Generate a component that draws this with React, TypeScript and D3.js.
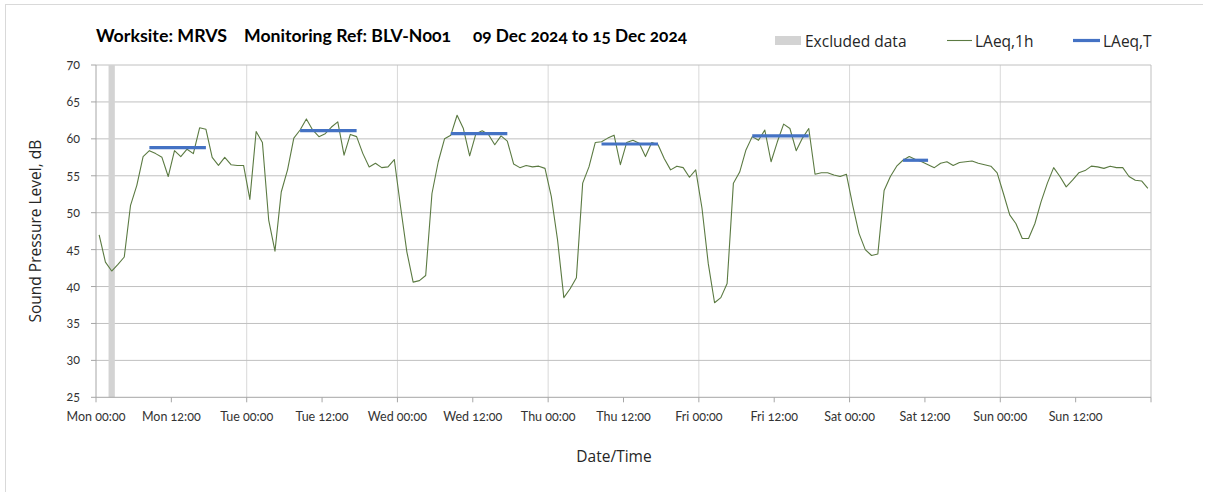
import React from 'react';
import * as d3 from 'd3';

// Hourly LAeq,1h values (168 hours, Mon 00:00 .. Sun 23:00)
const laeq1h: number[] = [
  // Mon
  47.0, 43.3, 42.1, 43.0, 44.0, 51.0, 53.7, 57.6, 58.4, 58.0, 57.5, 54.9,
  58.4, 57.6, 58.6, 58.0, 61.5, 61.3, 57.5, 56.4, 57.5, 56.5, 56.4, 56.4,
  // Tue
  51.8, 61.0, 59.5, 49.0, 44.8, 52.8, 55.8, 60.1, 61.2, 62.7, 61.2, 60.3,
  60.7, 61.6, 62.3, 57.8, 60.6, 60.3, 58.0, 56.2, 56.7, 56.1, 56.2, 57.2,
  // Wed
  50.8, 44.7, 40.6, 40.8, 41.5, 52.6, 56.9, 60.0, 60.5, 63.2, 61.4, 57.7,
  60.7, 61.1, 60.6, 59.2, 60.4, 59.7, 56.6, 56.1, 56.4, 56.2, 56.3, 56.0,
  // Thu
  52.2, 46.3, 38.5, 39.7, 41.2, 54.0, 56.2, 59.5, 59.6, 60.1, 60.5, 56.5,
  59.5, 59.8, 59.4, 57.6, 59.5, 59.2, 57.3, 55.8, 56.3, 56.1, 54.8, 55.8,
  // Fri
  50.6, 43.1, 37.8, 38.5, 40.4, 54.0, 55.5, 58.5, 60.3, 59.8, 61.2, 56.9,
  59.6, 62.0, 61.4, 58.4, 60.1, 61.4, 55.2, 55.4, 55.4, 55.1, 54.9, 55.2,
  // Sat
  51.0, 47.2, 45.0, 44.2, 44.4, 53.0, 54.9, 56.3, 57.1, 57.6, 57.2, 56.9,
  56.5, 56.1, 56.7, 56.9, 56.4, 56.8, 56.9, 57.0, 56.7, 56.5, 56.3, 55.4,
  // Sun
  52.6, 49.7, 48.5, 46.5, 46.5, 48.5, 51.5, 54.0, 56.1, 54.9, 53.5, 54.4,
  55.4, 55.7, 56.3, 56.2, 56.0, 56.3, 56.1, 56.1, 54.9, 54.4, 54.3, 53.3,
];

// LAeq,T periods (hour offsets from Mon 00:00, end exclusive)
const laeqTStart = [8, 32, 56, 80, 104, 128];
const laeqTEnd = [18, 42, 66, 90, 114, 133];
const laeqTValues = [58.8, 61.1, 60.7, 59.3, 60.4, 57.1];

// Excluded data periods
const excludedStart = [2];
const excludedEnd = [3];

const xTickLabels = [
  'Mon 00:00', 'Mon 12:00', 'Tue 00:00', 'Tue 12:00', 'Wed 00:00', 'Wed 12:00',
  'Thu 00:00', 'Thu 12:00', 'Fri 00:00', 'Fri 12:00', 'Sat 00:00', 'Sat 12:00',
  'Sun 00:00', 'Sun 12:00',
];
const yTicks = [25, 30, 35, 40, 45, 50, 55, 60, 65, 70];

const W = 1208;
const H = 492;
const L = 96, R = 1151, T = 65, B = 397.3;

export default function App() {
  const x = d3.scaleLinear().domain([0, 168]).range([L, R]);
  const y = d3.scaleLinear().domain([25, 70]).range([B, T]);

  const line = d3.line<number>()
    .x((_, i) => x(i + 0.5))
    .y((d) => y(d));

  const tickFont = 'Lato, "Open Sans", sans-serif';
  const labFont = '"Open Sans", "Noto Sans", sans-serif';
  const tickColor = '#333333';
  const numStyle: React.CSSProperties = { fontVariantNumeric: 'oldstyle-nums' };
  const green = '#5b7a42';

  const xTickHours = d3.range(0, 169, 12);

  return (
    <svg width={W} height={H} style={{ position: 'absolute', left: 0, top: 0, background: '#fff' }}>
      {/* outer chart frame */}
      <line x1={5} x2={1203} y1={4.5} y2={4.5} stroke="#d9d9d9" />
      <line x1={5.5} x2={5.5} y1={4} y2={H} stroke="#d9d9d9" />

      {/* vertical day gridlines */}
      {d3.range(24, 168, 24).map((h) => (
        <line key={'vg' + h} x1={x(h)} x2={x(h)} y1={T} y2={B} stroke="#d9d9d9" strokeWidth={1} />
      ))}
      {/* horizontal gridlines */}
      {yTicks.filter((v) => v > 25).map((v) => (
        <line key={'hg' + v} x1={L} x2={R} y1={y(v)} y2={y(v)} stroke="#c0c0c0" strokeWidth={1} />
      ))}
      {/* right border */}
      <line x1={R} x2={R} y1={T} y2={B} stroke="#bfbfbf" />

      {/* excluded data */}
      {excludedStart.map((s, i) => (
        <rect key={'ex' + i} x={x(s)} y={T} width={x(excludedEnd[i]) - x(s)} height={B - T} fill="#d3d3d3" />
      ))}

      {/* axes */}
      <line x1={L} x2={L} y1={T} y2={B} stroke="#a6a6a6" />
      <line x1={L} x2={R} y1={B} y2={B} stroke="#a6a6a6" />
      {yTicks.map((v) => (
        <g key={'yt' + v}>
          <line x1={L - 5} x2={L} y1={y(v)} y2={y(v)} stroke="#a6a6a6" />
          <text x={80} y={y(v) + 4} textAnchor="end" fontFamily={tickFont} fontSize={12.5} fill={tickColor} style={numStyle}>
            {v}
          </text>
        </g>
      ))}
      {xTickHours.map((h) => (
        <line key={'xt' + h} x1={x(h)} x2={x(h)} y1={B} y2={B + 5} stroke="#a6a6a6" />
      ))}
      {xTickLabels.map((lab, i) => (
        <text key={'xl' + i} x={x(xTickHours[i])} y={421} textAnchor="middle" fontFamily={tickFont} fontSize={12.5} fill={tickColor} style={numStyle}>
          {lab}
        </text>
      ))}

      {/* LAeq,1h */}
      <path d={line(laeq1h) || ''} fill="none" stroke={green} strokeWidth={1.1} strokeLinejoin="round" />

      {/* LAeq,T */}
      {laeqTStart.map((s, i) => (
        <line key={'lt' + i} x1={x(s + 0.5)} x2={x(laeqTEnd[i] - 0.5)} y1={y(laeqTValues[i])} y2={y(laeqTValues[i])}
          stroke="#4472C4" strokeWidth={3.2} />
      ))}

      {/* axis titles */}
      <text transform={`translate(41, ${(T + B) / 2}) rotate(-90)`} textAnchor="middle" fontFamily={labFont} fontSize={15.5} fill="#262626">
        Sound Pressure Level, dB
      </text>
      <text x={614} y={462} textAnchor="middle" fontFamily={labFont} fontSize={15.5} fill="#262626">
        Date/Time
      </text>

      {/* title */}
      <g fontFamily='Lato, "Open Sans", sans-serif' fontWeight="bold" fontSize={16.5} fill="#000" style={numStyle}>
        <text x={96} y={42} textLength={131} lengthAdjust="spacingAndGlyphs">Worksite: MRVS</text>
        <text x={244} y={42} textLength={207} lengthAdjust="spacingAndGlyphs">Monitoring Ref: BLV-N001</text>
        <text x={473} y={42} textLength={214} lengthAdjust="spacingAndGlyphs">09 Dec 2024 to 15 Dec 2024</text>
      </g>

      {/* legend */}
      <rect x={775} y={36} width={26} height={9} fill="#d3d3d3" />
      <text x={805} y={46.5} fontFamily={labFont} fontSize={15.5} fill="#262626">Excluded data</text>
      <line x1={947} x2={972} y1={40.5} y2={40.5} stroke={green} strokeWidth={1.1} />
      <text x={975} y={46.5} fontFamily={labFont} fontSize={15.5} fill="#262626">LAeq,1h</text>
      <line x1={1073} x2={1100} y1={40.5} y2={40.5} stroke="#4472C4" strokeWidth={3.2} />
      <text x={1103} y={46.5} fontFamily={labFont} fontSize={15.5} fill="#262626">LAeq,T</text>
    </svg>
  );
}
